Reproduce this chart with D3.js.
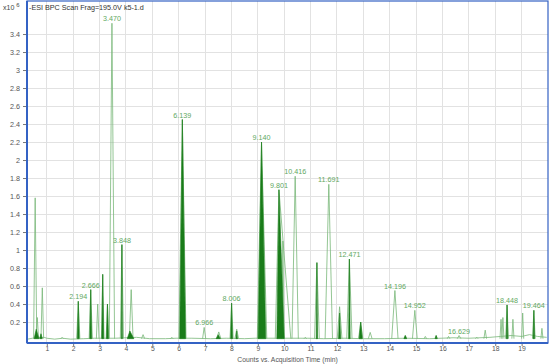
<!DOCTYPE html>
<html><head><meta charset="utf-8">
<script src="https://cdn.jsdelivr.net/npm/d3@7"></script>
<style>html,body{margin:0;padding:0;background:#fff;}svg{display:block;font-family:"Liberation Sans",Arial,sans-serif;}</style>
</head><body>
<svg id="c" width="550" height="364"></svg>
<script>
// ---- data ----
const title = "-ESI BPC Scan Frag=195.0V k5-1.d";
const xLabel = "Counts vs. Acquisition Time (min)";
const xTicks = [1,2,3,4,5,6,7,8,9,10,11,12,13,14,15,16,17,18,19];
const yTicks = [0.2,0.4,0.6,0.8,1,1.2,1.4,1.6,1.8,2,2.2,2.4,2.6,2.8,3,3.2,3.4];
const yTickText = ["0.2","0.4","0.6","0.8","1","1.2","1.4","1.6","1.8","2","2.2","2.4","2.6","2.8","3","3.2","3.4"];

// baseline of the chromatogram (time, intensity x10^6)
const baseT = [0.28,0.45,0.9,1.0,1.3,1.6,1.9,2.4,2.8,3.6,4.4,4.9,5.5,5.9,6.5,7.2,7.8,8.5,8.9,10.3,10.9,11.5,12.3,13.0,13.8,14.6,15.5,16.4,17.0,17.8,18.2,18.6,19.0,19.3,19.6,19.95];
const baseI = [0.01,0.02,0.03,0.02,0.01,0.02,0.01,0.015,0.02,0.02,0.03,0.015,0.015,0.02,0.02,0.015,0.02,0.015,0.02,0.02,0.02,0.015,0.02,0.015,0.015,0.02,0.015,0.025,0.02,0.03,0.04,0.05,0.04,0.06,0.04,0.03];

// light trace peaks: retention time, apex height, left / right base half-widths
const lightRT = [0.56,0.64,0.83,1.58,2.194,2.666,2.93,3.12,3.30,3.470,3.848,4.2,4.65,5.74,6.139,6.966,7.52,8.006,8.2,9.140,9.801,9.95,10.416,10.8,11.24,11.691,12.1,12.471,12.9,13.26,14.196,14.59,14.952,15.35,15.76,16.23,16.629,17.3,17.62,18.22,18.29,18.448,18.67,19.04,19.464,19.77];
const lightH  = [1.58,0.25,0.58,0.03,0.43,0.56,0.40,0.73,0.40,3.52,1.06,0.56,0.06,0.03,2.45,0.14,0.09,0.41,0.12,2.2,1.67,1.1,1.82,0.03,0.86,1.73,0.37,0.9,0.2,0.085,0.55,0.05,0.33,0.04,0.05,0.04,0.05,0.03,0.11,0.23,0.25,0.39,0.23,0.30,0.33,0.13];
const lightWL = [0.06,0.05,0.05,0.05,0.06,0.06,0.05,0.05,0.05,0.1,0.06,0.07,0.06,0.05,0.13,0.06,0.08,0.06,0.07,0.16,0.14,0.05,0.12,0.05,0.09,0.14,0.09,0.1,0.08,0.07,0.12,0.05,0.09,0.05,0.05,0.05,0.07,0.05,0.05,0.04,0.04,0.05,0.04,0.04,0.05,0.04];
const lightWR = [0.06,0.05,0.05,0.05,0.06,0.06,0.05,0.05,0.05,0.1,0.06,0.07,0.06,0.05,0.14,0.06,0.08,0.06,0.07,0.2,0.45,0.05,0.12,0.05,0.09,0.14,0.09,0.1,0.08,0.07,0.12,0.05,0.09,0.05,0.05,0.05,0.07,0.05,0.05,0.04,0.04,0.05,0.04,0.04,0.05,0.04];

// dark (integrated) peaks
const darkRT = [0.6,0.78,2.194,2.666,3.12,3.30,3.848,4.15,6.139,7.5,8.006,8.2,9.140,9.801,11.24,12.1,12.471,12.9,14.59,15.76,18.448,19.464];
const darkH  = [0.12,0.07,0.43,0.56,0.73,0.40,1.06,0.1,2.45,0.06,0.41,0.1,2.2,1.67,0.86,0.3,0.9,0.2,0.05,0.05,0.39,0.33];
const darkWL = [0.08,0.05,0.035,0.035,0.035,0.035,0.02,0.1,0.1,0.08,0.035,0.03,0.13,0.08,0.025,0.04,0.03,0.06,0.05,0.04,0.03,0.03];
const darkWR = [0.1,0.05,0.035,0.035,0.035,0.035,0.02,0.15,0.12,0.08,0.035,0.03,0.16,0.2,0.025,0.04,0.03,0.06,0.05,0.04,0.03,0.03];

// peak annotations (label text is the retention time), apex heights
const labelText = ["2.194","2.666","3.470","3.848","6.139","6.966","8.006","9.140","9.801","10.416","11.691","12.471","14.196","14.952","16.629","18.448","19.464"];
const labelH    = [0.43,0.56,3.52,1.06,2.45,0.14,0.41,2.2,1.67,1.82,1.73,0.9,0.55,0.33,0.05,0.39,0.33];

// ---- drawing ----
const svg = d3.select("#c");
const L = 27, R = 548, T = 1, B = 343;
const x = d3.scaleLinear().domain([0.25, 20]).range([L, R]);
const y = d3.scaleLinear().domain([-0.033, 3.767]).range([B, T]);
const baseLevel = 0.015;
const green = "#78b878", dark = "#1a7c1a", blue = "#3462c4";
const font = "'Liberation Sans',Arial,sans-serif";

// grid
svg.append("g").selectAll("line").data(xTicks).join("line")
  .attr("x1", d => x(d)).attr("x2", d => x(d)).attr("y1", T).attr("y2", B)
  .attr("stroke", "#e2e2e2").attr("stroke-width", 1).attr("shape-rendering","crispEdges");
svg.append("g").selectAll("line").data(yTicks).join("line")
  .attr("x1", L).attr("x2", R).attr("y1", d => y(d)).attr("y2", d => y(d))
  .attr("stroke", "#e2e2e2").attr("stroke-width", 1).attr("shape-rendering","crispEdges");

const line = d3.line().x(d => x(d[0])).y(d => y(d[1]));

// baseline trace
svg.append("path").datum(baseT.map((t,i)=>[t, baseI[i]]))
  .attr("d", line).attr("fill","none").attr("stroke", green).attr("stroke-width", 0.8);

// light peaks (outlines)
svg.append("g").selectAll("path").data(lightRT.map((t,i)=>({t, h:lightH[i], wl:lightWL[i], wr:lightWR[i]}))).join("path")
  .attr("d", p => line([[p.t-p.wl, baseLevel],[p.t, p.h],[p.t+p.wr, baseLevel]]))
  .attr("fill","none").attr("stroke", green).attr("stroke-width", 0.8).attr("stroke-linejoin","miter");

// dark peaks (filled)
svg.append("g").selectAll("path").data(darkRT.map((t,i)=>({t, h:darkH[i], wl:darkWL[i], wr:darkWR[i]}))).join("path")
  .attr("d", p => line([[p.t-p.wl, baseLevel],[p.t, p.h],[p.t+p.wr, baseLevel]]) + "Z")
  .attr("fill", dark).attr("stroke", dark).attr("stroke-width", 0.6);

// labels
svg.append("g").selectAll("text").data(labelText).join("text")
  .attr("x", d => x(+d)).attr("y", (d,i) => y(labelH[i]) - 2)
  .attr("text-anchor","middle").attr("font-size", 7.2).attr("fill", "#62a862").text(d => d);

// frame
svg.append("rect").attr("x", L).attr("y", T).attr("width", R-L).attr("height", B-T)
  .attr("fill","none").attr("stroke", blue).attr("stroke-width", 1.2);
svg.append("line").attr("x1", L).attr("x2", L).attr("y1", T).attr("y2", B).attr("stroke", blue).attr("stroke-width", 2);
svg.append("line").attr("x1", L).attr("x2", R).attr("y1", B).attr("y2", B).attr("stroke", blue).attr("stroke-width", 2);

// axes
const yAxis = d3.axisLeft(y).tickValues(yTicks).tickSize(3).tickFormat((d,i)=>yTickText[i]);
const gy = svg.append("g").attr("transform", `translate(${L-1},0)`).call(yAxis);
gy.select(".domain").remove();
gy.selectAll("text").attr("font-size", 7.2).attr("fill", "#555").attr("font-family", font);
gy.selectAll("line").attr("stroke", "#777");

const xAxis = d3.axisBottom(x).tickValues(xTicks).tickSize(2).tickPadding(1).tickFormat(d3.format("d"));
const gx = svg.append("g").attr("transform", `translate(0,${B+1})`).call(xAxis);
gx.select(".domain").remove();
gx.selectAll("text").attr("font-size", 6.8).attr("fill", "#555").attr("dy", "0.62em").attr("font-family", font);
gx.selectAll("line").attr("stroke", "#777");

// titles
svg.append("text").attr("x", 29).attr("y", 10).attr("font-size", 7.2).attr("fill", "#333").text(title);
const mult = svg.append("text").attr("x", 3).attr("y", 10).attr("font-size", 7).attr("fill", "#444");
mult.append("tspan").text("x10");
mult.append("tspan").attr("dx", 2).attr("dy", -3).attr("font-size", 6).text("6");
svg.append("text").attr("x", (L+R)/2).attr("y", 362).attr("text-anchor","middle").attr("font-size", 6.8).attr("fill", "#555").text(xLabel);
</script>
</body></html>
